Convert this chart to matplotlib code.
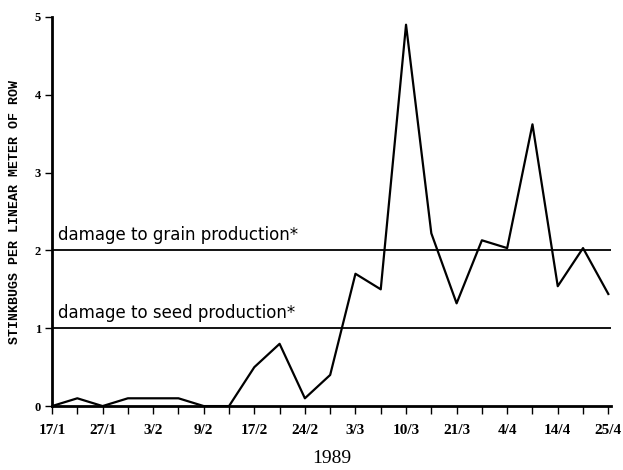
import matplotlib
matplotlib.use("Agg")
import matplotlib.pyplot as plt

dates = ["17/1", "", "27/1", "", "3/2", "", "9/2", "", "17/2", "", "24/2", "",
         "3/3", "", "10/3", "", "21/3", "", "4/4", "", "14/4", "", "25/4"]
values = [0, 0.1, 0, 0.1, 0.1, 0.1, 0, 0, 0.5, 0.8, 0.1, 0.4,
          1.7, 1.5, 4.9, 2.22, 1.32, 2.13, 2.03, 3.62, 1.54, 2.03, 1.44]
grain_threshold = 2.0
seed_threshold = 1.0
yticks = [0, 1, 2, 3, 4, 5]

fig = plt.figure(figsize=(6.23, 4.70), dpi=100)
ax = fig.add_axes([0.0835, 0.136, 0.897, 0.828])
x = list(range(len(values)))
ax.plot(x, values, color="black", lw=1.6)
ax.axhline(grain_threshold, color="black", lw=1.3)
ax.axhline(seed_threshold, color="black", lw=1.3)

ax.set_xlim(0, 22.1)
ax.set_ylim(0, 5)
ax.set_xticks(x)
ax.set_xticklabels(dates, fontfamily="Liberation Serif", fontweight="bold", fontsize=11)
ax.set_yticks(yticks)
ax.set_yticklabels([str(v) for v in yticks], fontfamily="Liberation Serif",
                   fontweight="bold", fontsize=9)
for s in ["top", "right"]:
    ax.spines[s].set_visible(False)
for s in ["left", "bottom"]:
    ax.spines[s].set_linewidth(2)
ax.tick_params(axis="x", direction="out", length=6, width=1, pad=7)
ax.tick_params(axis="y", direction="out", length=5, width=1, pad=3)

ax.text(0.25, grain_threshold + 0.08, "damage to grain production*", fontsize=12,
        fontfamily="DejaVu Sans", va="bottom", ha="left")
ax.text(0.25, seed_threshold + 0.08, "damage to seed production*", fontsize=12,
        fontfamily="DejaVu Sans", va="bottom", ha="left")

ax.set_ylabel("STINKBUGS PER LINEAR METER OF ROW", fontfamily="Liberation Mono",
              fontweight="bold", fontsize=9.5, labelpad=10)
ax.set_xlabel("1989", fontfamily="Liberation Serif", fontsize=14, labelpad=9)

fig.savefig("out.png", dpi=100)
